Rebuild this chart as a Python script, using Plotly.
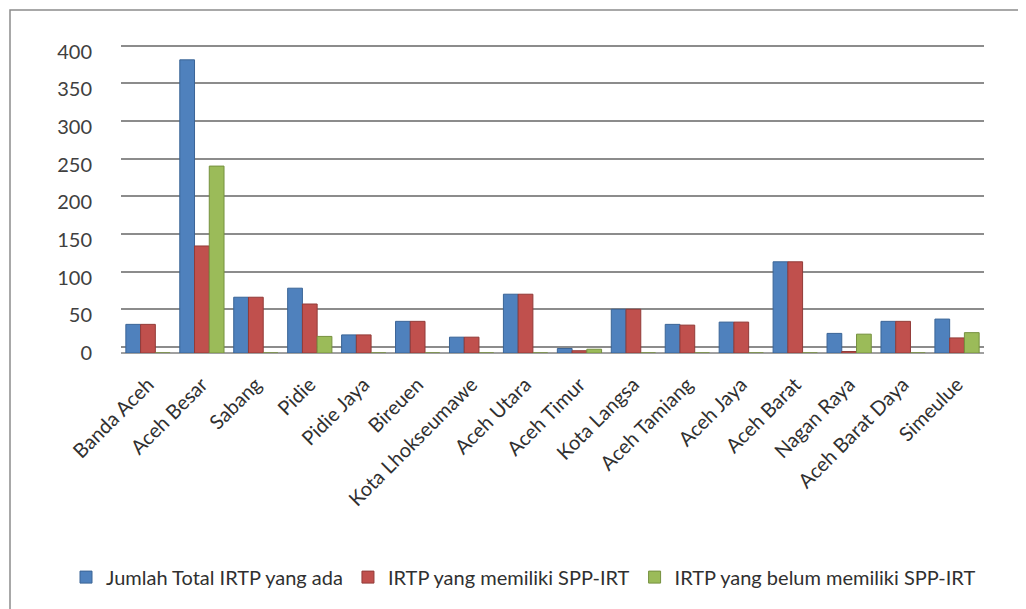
import plotly.graph_objects as go

categories = ["Banda Aceh", "Aceh Besar", "Sabang", "Pidie", "Pidie Jaya", "Bireuen",
              "Kota Lhokseumawe", "Aceh Utara", "Aceh Timur", "Kota Langsa", "Aceh Tamiang",
              "Aceh Jaya", "Aceh Barat", "Nagan Raya", "Aceh Barat Daya", "Simeulue"]
total_irtp = [38, 389, 74, 86, 24, 42, 21, 78, 6, 58, 38, 41, 121, 26, 42, 45]
irtp_spp = [38, 142, 74, 65, 24, 42, 21, 78, 3, 58, 37, 41, 121, 2, 42, 20]
irtp_belum = [0, 248, 0, 22, 0, 0, 0, 0, 5, 0, 0, 0, 0, 25, 0, 27]
series_names = ["Jumlah Total IRTP yang ada", "IRTP yang memiliki SPP-IRT",
                "IRTP yang belum memiliki SPP-IRT"]
y_ticks = [0, 50, 100, 150, 200, 250, 300, 350, 400]

# the page body adds an 8px offset: work in screen pixels, convert to figure pixels
OFF = 8
W, H = 1026 - OFF, 609 - OFF
PLOT_L, PLOT_R = 121, 984      # screen px
PY0 = 353.5                    # screen px of value 0
YMAX = 410
PPU = 0.755                    # px per unit
plot_h = YMAX * PPU
ML = PLOT_L - OFF
MR = W - (PLOT_R - OFF)
MT = (PY0 - OFF) - plot_h
MB = H - (PY0 - OFF)
plot_w = PLOT_R - PLOT_L

def px_x(px):
    return (px - PLOT_L) / plot_w

def px_y(py):
    return (PY0 - py) / plot_h

colors = ["#4F81BD", "#C0504D", "#9BBB59"]
edges = ["#3A6496", "#923B38", "#76913F"]
fig = go.Figure()
for name, vals, c, e in zip(series_names, [total_irtp, irtp_spp, irtp_belum], colors, edges):
    fig.add_trace(go.Bar(x=categories, y=vals, name=name,
                         marker=dict(color=c, line=dict(color=e, width=1))))

# invisible trace to carry the shifted (back-plane) gridlines
fig.add_trace(go.Scatter(x=[categories[0]], y=[0], yaxis="y2", mode="markers",
                         marker=dict(opacity=0), showlegend=False, hoverinfo="skip"))

shift = 6 / PPU
fig.update_layout(
    width=W, height=H,
    margin=dict(l=ML, r=MR, t=MT, b=MB, pad=0, autoexpand=False),
    paper_bgcolor="white", plot_bgcolor="white",
    barmode="group", bargap=0.18, bargroupgap=0.0,
    font=dict(family="Lato, Open Sans, sans-serif", color="#404040", size=20),
    xaxis=dict(tickangle=-45, tickfont=dict(size=20, color="#303030"), showgrid=False,
               showline=False, ticks="", categoryorder="array", categoryarray=categories,
               range=[-0.5, len(categories) - 0.5], automargin=False,
               ticklabelstandoff=15),
    yaxis=dict(range=[0, YMAX], tickvals=y_ticks, showgrid=False, zeroline=True,
               zerolinecolor="#A0A0A0", zerolinewidth=1.5, automargin=False,
               tickfont=dict(size=20, color="#404040"), ticklabelstandoff=28, ticks=""),
    yaxis2=dict(overlaying="y", range=[-shift, YMAX - shift], tickvals=y_ticks,
                showgrid=True, gridcolor="#8C8C8C", gridwidth=1.5, showticklabels=False,
                zeroline=False, ticks="", automargin=False),
    legend=dict(orientation="h", x=px_x(66), y=px_y(578), xanchor="left", yanchor="middle",
                font=dict(size=20, color="#303030"), itemwidth=30, traceorder="normal"),
    shapes=[dict(type="rect", xref="paper", yref="paper",
                 x0=px_x(10), x1=px_x(1040), y0=px_y(620), y1=px_y(10),
                 line=dict(color="#8C8C8C", width=1.5), layer="below")],
)

fig.write_html("out.html")
